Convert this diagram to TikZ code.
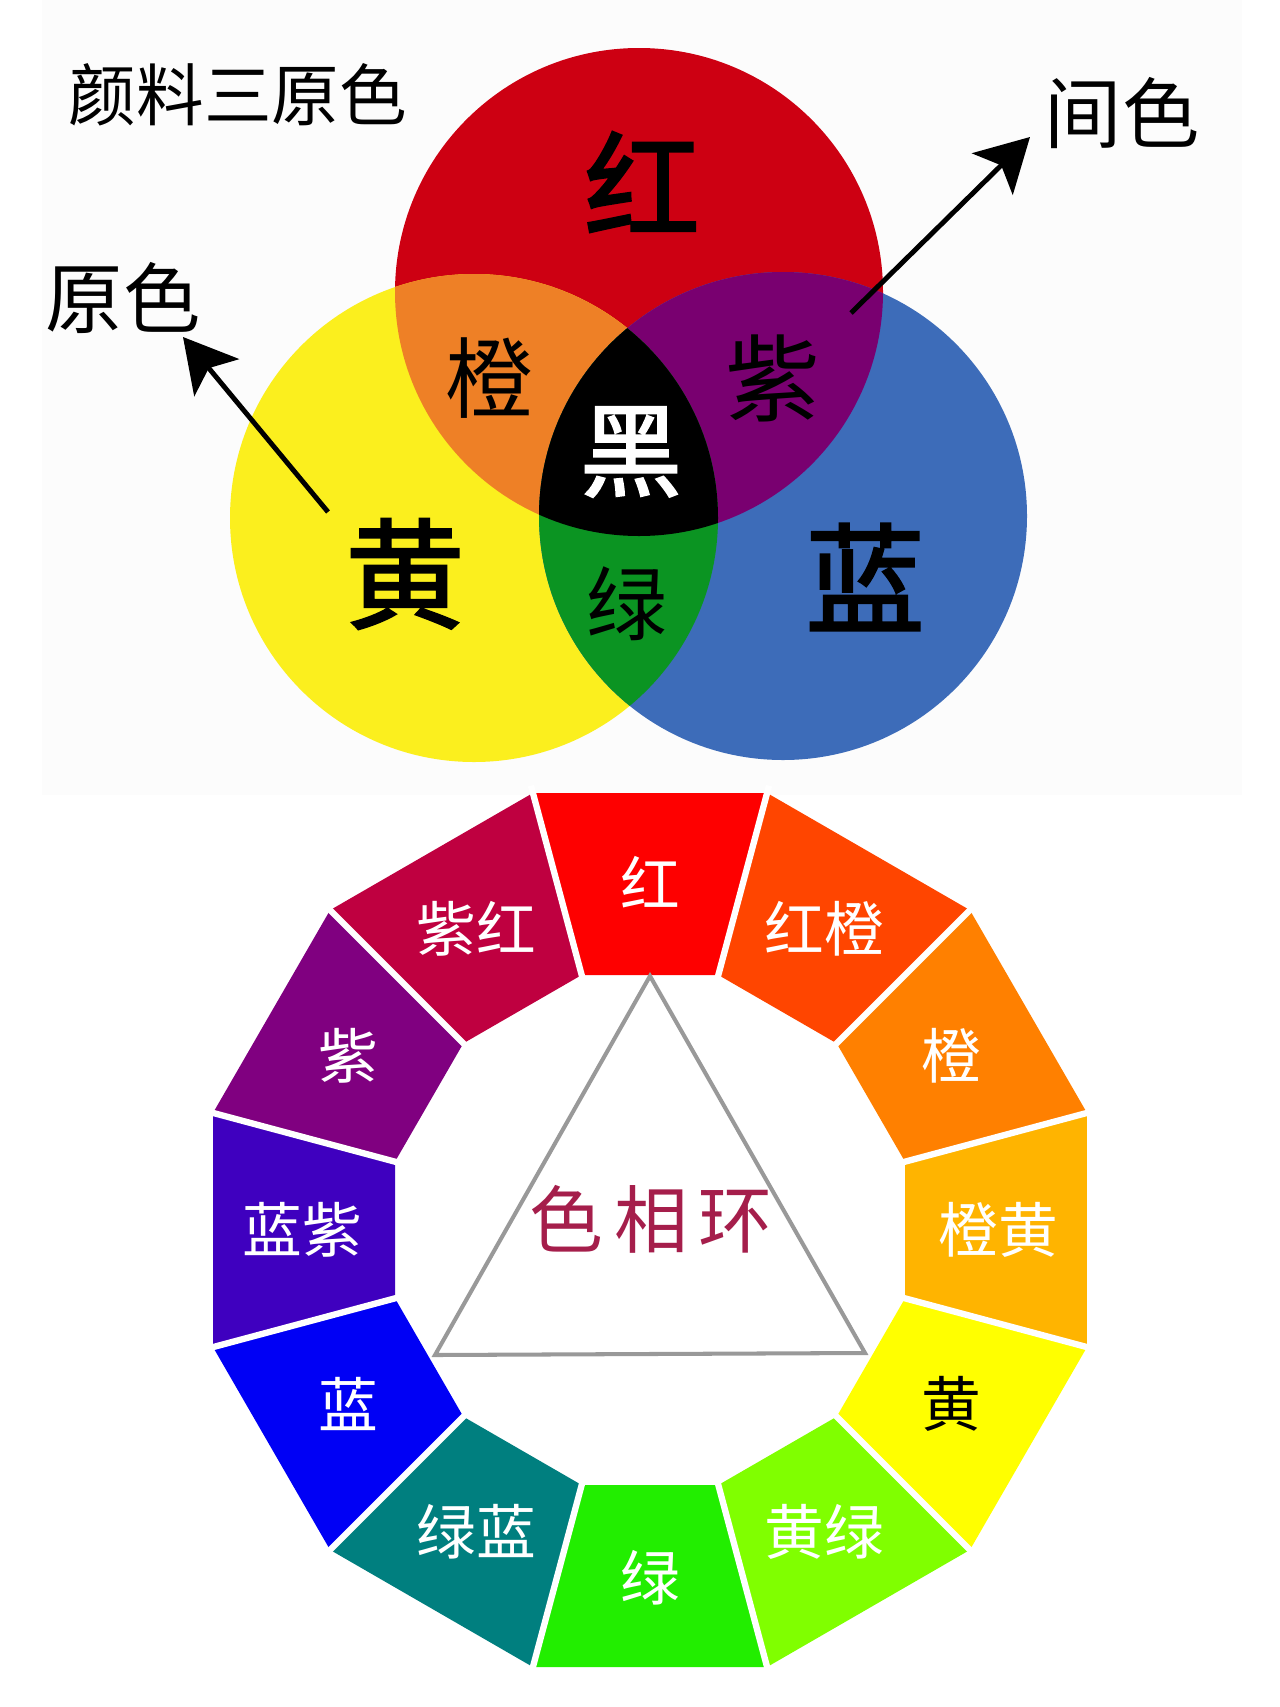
\documentclass[tikz,border=0pt]{standalone}
\usepackage{fontspec}
\setmainfont{Noto Sans CJK SC}
\newfontfamily\heavycjk[FakeBold=2]{Noto Sans CJK SC}
\usetikzlibrary{arrows.meta}

\definecolor{pigred}{HTML}{CD0012}
\definecolor{pigyellow}{HTML}{FBEF1E}
\definecolor{pigblue}{HTML}{3D6CB9}
\definecolor{mixorange}{HTML}{EE8026}
\definecolor{mixpurple}{HTML}{790070}
\definecolor{mixgreen}{HTML}{0B9422}
\definecolor{hueR}{HTML}{FE0000}
\definecolor{hueRO}{HTML}{FF4500}
\definecolor{hueO}{HTML}{FF8000}
\definecolor{hueOY}{HTML}{FFB400}
\definecolor{hueY}{HTML}{FFFF00}
\definecolor{hueYG}{HTML}{80FF00}
\definecolor{hueG}{HTML}{22EE00}
\definecolor{hueGB}{HTML}{007F7F}
\definecolor{hueB}{HTML}{0000F5}
\definecolor{hueBV}{HTML}{3F00BF}
\definecolor{hueV}{HTML}{800080}
\definecolor{hueVR}{HTML}{BF0040}
\definecolor{ringtitle}{HTML}{A51E4B}
\definecolor{bgtop}{HTML}{FCFCFC}

\begin{document}
\begin{tikzpicture}[x=0.02cm, y=-0.02cm,
		caption/.style={inner sep=0pt, font=\fontsize{44}{44}\selectfont},
		primary/.style={inner sep=0pt, font=\heavycjk\fontsize{68}{68}\selectfont},
		mixed/.style={inner sep=0pt, font=\fontsize{52}{52}\selectfont},
		seglabel/.style={inner sep=0pt, font=\fontsize{34}{34}\selectfont},
		pointer/.style={line width=2.8pt, -{Stealth[length=30pt, width=33pt, inset=7pt]}},
		gap/.style={white, line width=3.6pt},
		tri/.style={draw=black!40, line width=2.3pt}
	]
	\useasboundingbox (0,0) rectangle (1280,1707);
	\fill[white] (0,0) rectangle (1280,1707);
	\fill[bgtop] (42,0) rectangle (1242,795);

	% three pigment circles
	\fill[pigred] (639,292) circle (244);
	\fill[pigyellow] (474,518) circle (244);
	\fill[pigblue] (783,516) circle (244);
	\begin{scope}
		\clip (639,292) circle (244);
		\fill[mixorange] (474,518) circle (244);
		\fill[mixpurple] (783,516) circle (244);
	\end{scope}
	\begin{scope}
		\clip (474,518) circle (244);
		\fill[mixgreen] (783,516) circle (244);
	\end{scope}
	\begin{scope}
		\clip (639,292) circle (244);
		\clip (474,518) circle (244);
		\fill[black] (783,516) circle (244);
	\end{scope}

	\node[inner sep=0pt, font=\fontsize{38.5}{38.5}\selectfont] (title) at (238,95) {颜料三原色};
	\node[caption] (yuanse) at (123,298) {原色};
	\node[caption] (jianse) at (1122,113) {间色};
	\node[primary, font=\heavycjk\fontsize{66}{66}\selectfont] (hong) at (642,182) {红};
	\node[primary] (huang) at (405,574) {黄};
	\node[primary] (lan) at (865,577) {蓝};
	\node[mixed, font=\fontsize{50}{50}\selectfont] (cheng) at (489,378) {橙};
	\node[mixed, font=\fontsize{54}{54}\selectfont] (zi) at (773,378) {紫};
	\node[mixed, font=\fontsize{46}{46}\selectfont] (lv) at (627,604) {绿};
	\node[primary, text=white, font=\heavycjk\fontsize{58}{58}\selectfont] (hei) at (631,452) {黑};

	\coordinate (yuanse tail) at (328,512);
	\coordinate (yuanse tip) at (183,337);
	\coordinate (jianse tail) at (851,313);
	\coordinate (jianse tip) at (1030,137);
	\draw[pointer] (yuanse tail) -- (yuanse tip);
	\draw[pointer] (jianse tail) -- (jianse tip);

	% hue ring
	\begin{scope}[shift={(650,1230)}, yscale=-1]
		\foreach \ang/\col/\lbl/\tc/\nm in {90/hueR/红/white/ringR, 60/hueRO/红橙/white/ringRO,
				30/hueO/橙/white/ringO, 0/hueOY/橙黄/white/ringOY, -30/hueY/黄/black/ringY,
				-60/hueYG/黄绿/white/ringYG, -90/hueG/绿/white/ringG, -120/hueGB/绿蓝/white/ringGB,
				-150/hueB/蓝/white/ringB, 180/hueBV/蓝紫/white/ringBV, 150/hueV/紫/white/ringV,
				120/hueVR/紫红/white/ringVR}{
			\fill[\col] ({\ang-15}:452.4) -- ({\ang+15}:452.4) -- ({\ang+15}:264) -- ({\ang-15}:264) -- cycle;
			\node[seglabel, text=\tc] (\nm) at (\ang:348) {\lbl};
		}
		\foreach \ang in {15,45,...,345}
			\draw[gap] (\ang:258) -- (\ang:460);
	\end{scope}

	\draw[tri] (650,976) -- (435,1355) -- (865,1353) -- cycle;
	\node[inner sep=0pt, text=ringtitle, font=\fontsize{42}{42}\selectfont] (ringname) at (651,1219) {色\kern6pt 相\kern6pt 环};
\end{tikzpicture}
\end{document}
